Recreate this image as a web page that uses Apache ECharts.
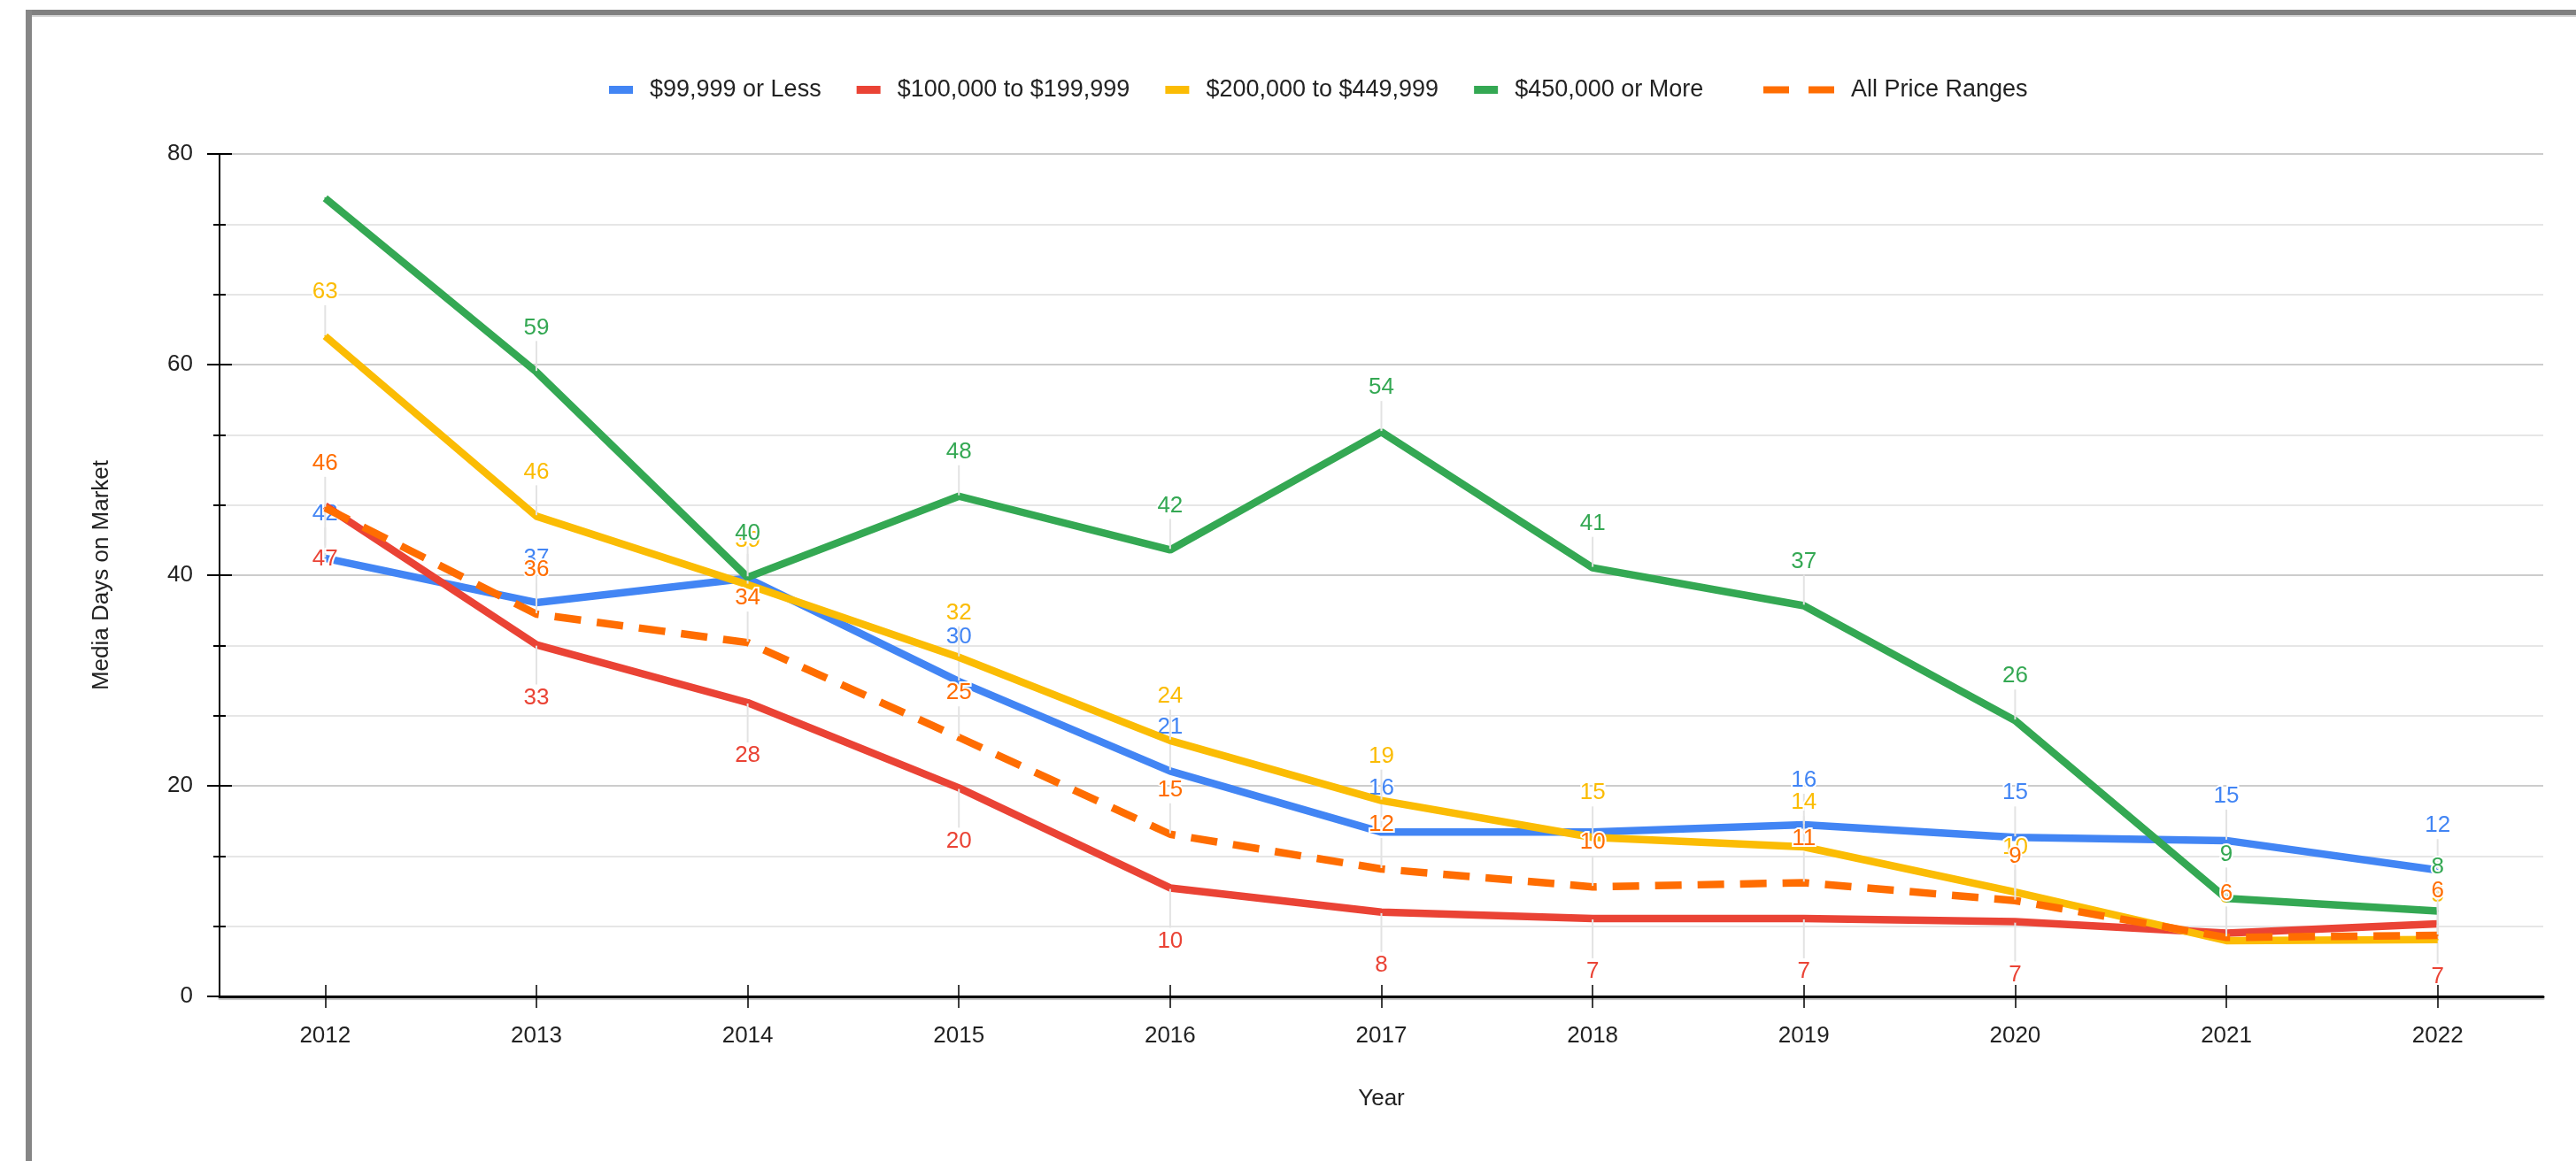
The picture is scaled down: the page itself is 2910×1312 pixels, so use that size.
<!DOCTYPE html>
<html>
<head>
<meta charset="utf-8">
<script src="https://cdn.jsdelivr.net/npm/echarts@6/dist/echarts.min.js"></script>
<style>
  html, body { margin: 0; padding: 0; background: #fff; }
  #chart { position: absolute; left: 0; top: 0; width: 2910px; height: 1312px; }
  .frame-top { position: absolute; left: 29px; top: 11px; width: 2881px; height: 6px; background: #808080; }
  .frame-top-inner { position: absolute; left: 36px; top: 17px; width: 2874px; height: 2px; background: #d0d0d0; }
  .frame-left { position: absolute; left: 29px; top: 11px; width: 7px; height: 1301px; background: #868686; }
</style>
</head>
<body>
<div id="chart"></div>
<div class="frame-top"></div>
<div class="frame-top-inner"></div>
<div class="frame-left"></div>
<script>
const years = ['2012','2013','2014','2015','2016','2017','2018','2019','2020','2021','2022'];
const seriesNames = ['$99,999 or Less', '$100,000 to $199,999', '$200,000 to $449,999', '$450,000 or More', 'All Price Ranges'];
const under100k   = [41.6, 37.4, 39.7, 29.9, 21.4, 15.6, 15.6, 16.3, 15.1, 14.8, 12.0];
const k100to200   = [46.6, 33.4, 27.9, 19.8, 10.3, 8.0, 7.4, 7.4, 7.1, 6.0, 6.9];
const k200to450   = [62.7, 45.6, 39.1, 32.2, 24.3, 18.6, 15.1, 14.2, 9.9, 5.3, 5.4];
const over450k    = [75.8, 59.3, 39.8, 47.5, 42.4, 53.6, 40.7, 37.1, 26.2, 9.3, 8.1];
const allRanges   = [46.4, 36.3, 33.6, 24.6, 15.4, 12.1, 10.4, 10.8, 9.1, 5.6, 5.8];
const yTicks = [0, 20, 40, 60, 80];
const colors = ['#4285F4', '#EA4335', '#FBBC04', '#34A853', '#FF6D01'];
// labels that the original chart leaves out: [series index, year index]
const hiddenLabels = [[3, 0], [1, 9], [0, 6], [0, 2]];

const FONT = 'Liberation Sans, Arial, sans-serif';
const allData = [under100k, k100to200, k200to450, over450k, allRanges];

function buildSeries(i) {
  const below = (i === 1);
  const data = allData[i].map((v, j) => {
    const hide = hiddenLabels.some(h => h[0] === i && h[1] === j);
    return hide ? { value: v, label: { show: false }, labelLine: { show: false } } : v;
  });
  return {
    name: seriesNames[i],
    type: 'line',
    xAxisIndex: 0,
    yAxisIndex: 0,
    data: data,
    symbol: 'circle',
    symbolSize: 2,
    showSymbol: true,
    itemStyle: { color: colors[i] },
    lineStyle: {
      color: colors[i],
      width: 8.5,
      type: i === 4 ? [30, 18] : 'solid',
      cap: 'butt'
    },
    label: {
      show: true,
      position: below ? 'bottom' : 'top',
      distance: 4,
      fontSize: 26,
      fontFamily: FONT,
      color: colors[i],
      textBorderColor: '#fff',
      textBorderWidth: 4,
      formatter: p => String(Math.round(p.value))
    },
    labelLayout: { dy: below ? 42 : -32 },
    labelLine: { show: true, lineStyle: { color: '#e3e3e3', width: 2 } },
    emphasis: { disabled: true },
    z: 2 + i
  };
}

const chart = echarts.init(document.getElementById('chart'), null, { renderer: 'canvas' });
const option = {
  animation: false,
  textStyle: { fontFamily: FONT },
  color: colors,
  legend: [
    {
      data: seriesNames.slice(0, 4),
      left: 683,
      top: 83,
      itemWidth: 27,
      itemHeight: 9,
      itemGap: 40,
      icon: 'rect',
      textStyle: { fontSize: 27, color: '#222', fontFamily: FONT, padding: [0, 0, 0, 14] }
    },
    {
      data: [seriesNames[4]],
      left: 1987,
      top: 83,
      itemWidth: 80,
      itemHeight: 8,
      icon: 'path://M0,0h29v8h-29z M51,0h29v8h-29z',
      textStyle: { fontSize: 27, color: '#222', fontFamily: FONT, padding: [0, 0, 0, 14] }
    }
  ],
  grid: { left: 248, right: 37, top: 174, bottom: 186, containLabel: false },
  xAxis: [
    {
      type: 'category',
      data: years,
      boundaryGap: true,
      position: 'bottom',
      name: 'Year',
      nameLocation: 'middle',
      nameGap: 103,
      nameTextStyle: { fontSize: 26, color: '#222', fontFamily: FONT },
      axisLine: { show: true, lineStyle: { color: '#000', width: 3, shadowColor: 'rgba(0,0,0,0.25)', shadowOffsetY: 2, shadowBlur: 1 } },
      axisTick: { show: true, alignWithLabel: true, inside: false, length: 13, lineStyle: { color: '#000', width: 1.5 } },
      axisLabel: { fontSize: 26, color: '#222', margin: 32, fontFamily: FONT },
      splitLine: { show: false }
    },
    {
      type: 'category',
      data: years,
      boundaryGap: true,
      position: 'bottom',
      offset: 0,
      axisLine: { show: false },
      axisTick: { show: true, alignWithLabel: true, inside: true, length: 13, lineStyle: { color: '#000', width: 1.5 } },
      axisLabel: { show: false },
      splitLine: { show: false }
    }
  ],
  yAxis: [
    {
      type: 'value',
      min: yTicks[0],
      max: yTicks[yTicks.length - 1],
      interval: 20,
      position: 'left',
      name: 'Media Days on Market',
      nameLocation: 'middle',
      nameGap: 120,
      nameRotate: 90,
      nameTextStyle: { fontSize: 26, color: '#222', fontFamily: FONT },
      axisLine: { show: true, lineStyle: { color: '#000', width: 2 } },
      axisTick: { show: true, inside: false, length: 14, lineStyle: { color: '#000', width: 2 } },
      minorTick: { show: true, splitNumber: 3, length: 7, lineStyle: { color: '#000', width: 2 } },
      axisLabel: { fontSize: 26, color: '#222', margin: 30, fontFamily: FONT },
      splitLine: { show: true, lineStyle: { color: '#cccccc', width: 2 } },
      minorSplitLine: { show: true, lineStyle: { color: '#e6e6e6', width: 2 } }
    },
    {
      type: 'value',
      min: yTicks[0],
      max: yTicks[yTicks.length - 1],
      interval: 20,
      position: 'left',
      offset: 0,
      axisLine: { show: false },
      axisTick: { show: true, inside: true, length: 14, lineStyle: { color: '#000', width: 2 } },
      minorTick: { show: true, splitNumber: 3, length: 7, lineStyle: { color: '#000', width: 2 } },
      axisLabel: { show: false },
      splitLine: { show: false }
    }
  ],
  series: [0, 1, 2, 3, 4].map(buildSeries)
};
chart.setOption(option);
</script>
</body>
</html>
